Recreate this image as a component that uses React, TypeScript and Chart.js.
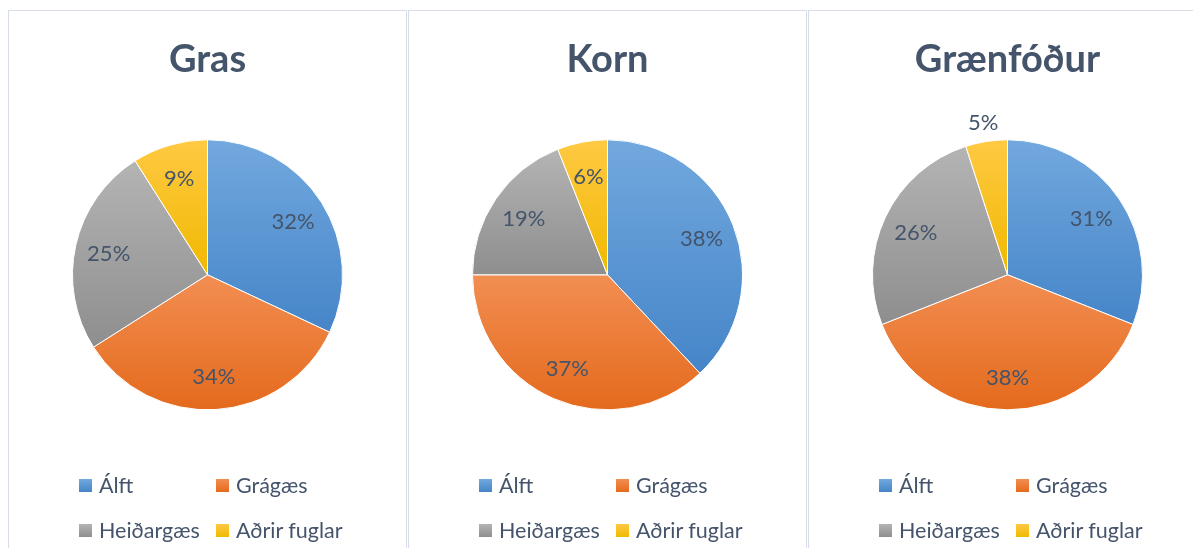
import React, { useEffect, useRef } from 'react';
import { Chart, registerables } from 'chart.js';

Chart.register(...registerables);

const categories = ['Álft', 'Grágæs', 'Heiðargæs', 'Aðrir fuglar'];
const panelTitles = ['Gras', 'Korn', 'Grænfóður'];
const grasValues = [32, 34, 25, 9];
const kornValues = [38, 37, 19, 6];
const graenfodurValues = [31, 38, 26, 5];
const seriesValues = [grasValues, kornValues, graenfodurValues];

const lightColors = ['#72a8de', '#f28e52', '#b4b4b4', '#ffc943'];
const darkColors = ['#4585c8', '#e46a1c', '#8e8e8e', '#f0b900'];
const TEXT = '#44546a';
const RADIUS = 135;
const CANVAS_W = 397;
const CANVAS_H = 536;

function sliceGradient(context: any) {
  const i = context.dataIndex ?? 0;
  const chart = context.chart;
  const area = chart.chartArea;
  if (context.type !== 'data' || !area) return darkColors[i % 4];
  const data: number[] = context.dataset.data;
  const total = data.reduce((a, b) => a + b, 0);
  let before = 0;
  for (let k = 0; k < i; k++) before += data[k];
  const start = -Math.PI / 2 + (2 * Math.PI * before) / total;
  const end = start + (2 * Math.PI * data[i]) / total;
  const cy = (area.top + area.bottom) / 2;
  const ys = [cy, cy + RADIUS * Math.sin(start), cy + RADIUS * Math.sin(end)];
  const within = (a: number) => {
    for (let t = a - 4 * Math.PI; t <= a + 4 * Math.PI; t += 2 * Math.PI) {
      if (t >= start && t <= end) return true;
    }
    return false;
  };
  if (within(Math.PI / 2)) ys.push(cy + RADIUS);
  if (within(-Math.PI / 2)) ys.push(cy - RADIUS);
  const ymin = Math.min(...ys);
  const ymax = Math.max(...ys);
  const g = chart.ctx.createLinearGradient(0, ymin, 0, ymax + 0.01);
  g.addColorStop(0, lightColors[i % 4]);
  g.addColorStop(1, darkColors[i % 4]);
  return g;
}

const pctLabels = {
  id: 'pctLabels',
  afterDatasetsDraw(chart: any) {
    const meta = chart.getDatasetMeta(0);
    const data: number[] = chart.data.datasets[0].data;
    const total = data.reduce((a, b) => a + b, 0);
    const c = chart.ctx;
    c.save();
    c.font = '22px Lato';
    c.fillStyle = TEXT;
    c.textAlign = 'center';
    c.textBaseline = 'middle';
    meta.data.forEach((arc: any, i: number) => {
      const p = arc.getProps(['x', 'y', 'startAngle', 'endAngle', 'outerRadius'], true);
      const mid = (p.startAngle + p.endAngle) / 2;
      const pct = Math.round((data[i] / total) * 100);
      const r = pct < 6 ? p.outerRadius + 20 : p.outerRadius * 0.75;
      c.fillText(pct + '%', p.x + r * Math.cos(mid), p.y + r * Math.sin(mid) + 1.5);
    });
    c.restore();
  },
};

function PiePanel({ title, values, index }: { title: string; values: number[]; index: number }) {
  const ref = useRef<HTMLCanvasElement>(null);
  useEffect(() => {
    if (!ref.current) return;
    const chart = new Chart(ref.current, {
      type: 'pie',
      data: {
        labels: categories,
        datasets: [
          {
            data: values,
            backgroundColor: sliceGradient as any,
            borderColor: '#ffffff',
            borderWidth: 1,
            hoverOffset: 0,
          },
        ],
      },
      options: {
        responsive: false,
        animation: false,
        devicePixelRatio: 1,
        radius: RADIUS,
        layout: { padding: { top: 0, bottom: 90, left: 0, right: 0 } },
        plugins: {
          legend: { display: false },
          tooltip: { enabled: false },
          title: {
            display: true,
            text: title,
            color: TEXT,
            font: { family: 'Lato', size: 38, weight: 'bold', lineHeight: 1.2 },
            padding: { top: 26, bottom: 10 },
          },
        },
      } as any,
      plugins: [pctLabels],
    });
    return () => chart.destroy();
  }, [title, values]);

  const legendItem = (i: number, left: number) => (
    <div
      key={i}
      style={{
        position: 'absolute',
        left,
        top: 0,
        height: 24,
        display: 'flex',
        alignItems: 'center',
        whiteSpace: 'nowrap',
      }}
    >
      <span
        style={{
          display: 'inline-block',
          width: 13,
          height: 13,
          background: `linear-gradient(${lightColors[i]}, ${darkColors[i]})`,
          marginRight: 7,
        }}
      />
      <span style={{ fontFamily: 'Lato', fontSize: 21.5, color: TEXT, lineHeight: '24px' }}>{categories[i]}</span>
    </div>
  );

  return (
    <div
      style={{
        position: 'absolute',
        left: 400 * index,
        top: 2,
        width: 399,
        height: 538,
        boxSizing: 'border-box',
        borderTop: '1px solid #d8dee7',
        borderLeft: '1px solid #d8dee7',
        borderRight: '1px solid #d8dee7',
        background: '#ffffff',
      }}
    >
      <canvas
        ref={ref}
        width={CANVAS_W}
        height={CANVAS_H}
        style={{ position: 'absolute', left: 0, top: 0, width: CANVAS_W, height: CANVAS_H }}
      />
      <div style={{ position: 'absolute', left: 0, top: 462, width: 397, height: 24 }}>
        {legendItem(0, 70)}
        {legendItem(1, 207)}
      </div>
      <div style={{ position: 'absolute', left: 0, top: 507, width: 397, height: 24 }}>
        {legendItem(2, 70)}
        {legendItem(3, 207)}
      </div>
    </div>
  );
}

export default function App() {
  useEffect(() => {
    document.body.style.overflow = 'hidden';
    document.documentElement.style.overflow = 'hidden';
  }, []);
  return (
    <div style={{ position: 'relative', width: 1193, height: 540, overflow: 'hidden', background: '#ffffff' }}>
      {panelTitles.map((t, i) => (
        <PiePanel key={t} title={t} values={seriesValues[i]} index={i} />
      ))}
    </div>
  );
}
